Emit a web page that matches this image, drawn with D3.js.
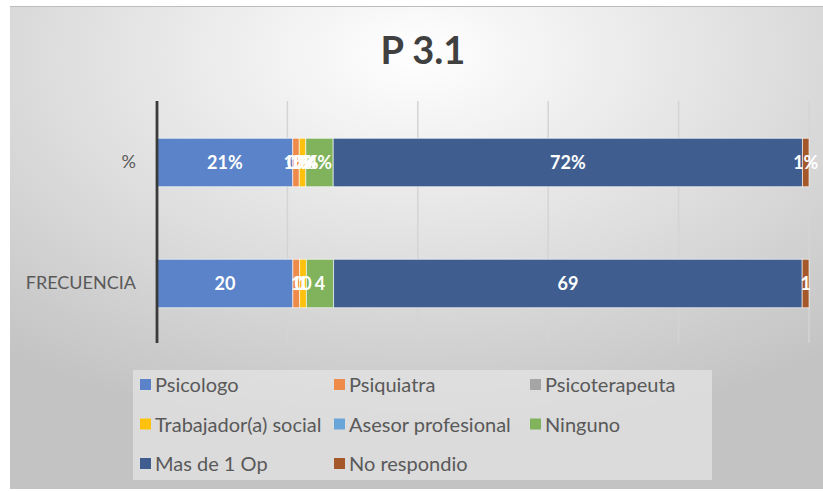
<!DOCTYPE html>
<html>
<head>
<meta charset="utf-8">
<script src="https://cdn.jsdelivr.net/npm/d3@7"></script>
<style>
  body { margin: 0; background: #fff; }
  #chart svg { display: block; }
</style>
</head>
<body>
<div id="chart"></div>
<script>
// =========================
// DATA
// =========================
const categories = ["%", "FRECUENCIA"];
const seriesNames = ["Psicologo", "Psiquiatra", "Psicoterapeuta", "Trabajador(a) social",
                     "Asesor profesional", "Ninguno", "Mas de 1 Op", "No respondio"];
const frecuencia = [20, 1, 0, 1, 0, 4, 69, 1];
const porcentaje = [20.8, 1.0, 0.0, 1.0, 0.0, 4.2, 71.9, 1.0];
const colors = ["#5b83c9", "#ee8a4a", "#a5a5a5", "#fdc10e", "#6aa5da", "#80b35c", "#3f5e8f", "#a5582a"];
const gridTicks = [0, 0.2, 0.4, 0.6, 0.8, 1];

const W = 823, H = 491;
const font = "Lato, sans-serif";

// =========================
// SVG
// =========================
const svg = d3.select("#chart")
    .append("svg")
    .attr("width", W)
    .attr("height", H);

const defs = svg.append("defs");
const grad = defs.append("radialGradient")
    .attr("id", "bg")
    .attr("cx", "50%").attr("cy", "10%").attr("r", "80%");
grad.append("stop").attr("offset", "0%").attr("stop-color", "#ffffff");
grad.append("stop").attr("offset", "100%").attr("stop-color", "#c3c3c3");

svg.append("rect")
    .attr("x", 10).attr("y", 6)
    .attr("width", W - 10).attr("height", 483)
    .attr("fill", "url(#bg)");
svg.append("line")
    .attr("x1", 10).attr("x2", W).attr("y1", 6.5).attr("y2", 6.5)
    .attr("stroke", "#bdbdbd").attr("stroke-width", 1);

// =========================
// TITLE
// =========================
svg.append("text")
    .attr("x", 423).attr("y", 64)
    .attr("text-anchor", "middle")
    .attr("font-family", font)
    .attr("font-weight", "bold")
    .attr("font-size", 38)
    .attr("fill", "#404040")
    .text("P 3.1");

// =========================
// SCALES
// =========================
const x = d3.scaleLinear().domain([0, 1]).range([157, 809]);
const y = d3.scaleBand().domain(categories).range([102, 344]).paddingInner(0.6).paddingOuter(0.3);

// gridlines
svg.selectAll("line.grid")
    .data(gridTicks.slice(1))
    .enter()
    .append("line")
    .attr("class", "grid")
    .attr("x1", d => x(d)).attr("x2", d => x(d))
    .attr("y1", 101).attr("y2", 343)
    .attr("stroke", "#d4d4d4")
    .attr("stroke-width", 1.5);

// =========================
// STACKED BARS (100%)
// =========================
const rows = [
    { cat: "%", values: porcentaje, fmt: v => Math.round(v) + "%" },
    { cat: "FRECUENCIA", values: frecuencia, fmt: v => v }
];

rows.forEach(r => {
    const total = d3.sum(r.values);
    let acc = 0;
    const segs = r.values.map((v, i) => {
        const s = { i: i, v: v, x0: acc / total, x1: (acc + v) / total };
        acc += v;
        return s;
    });

    const g = svg.append("g");

    g.selectAll("rect")
        .data(segs)
        .enter()
        .append("rect")
        .attr("x", d => x(d.x0))
        .attr("y", y(r.cat))
        .attr("width", d => x(d.x1) - x(d.x0))
        .attr("height", y.bandwidth())
        .attr("fill", d => colors[d.i])
        .attr("stroke", "rgba(255,255,255,0.6)")
        .attr("stroke-width", 1);

    g.selectAll("text")
        .data(segs)
        .enter()
        .append("text")
        .attr("x", d => (x(d.x0) + x(d.x1)) / 2)
        .attr("y", y(r.cat) + y.bandwidth() / 2 + 6.5)
        .attr("text-anchor", "middle")
        .attr("font-family", font)
        .attr("font-weight", "bold")
        .attr("font-size", 18)
        .attr("fill", "#ffffff")
        .text(d => r.fmt(d.v));
});

// =========================
// AXIS
// =========================
const yAxis = svg.append("g")
    .attr("transform", "translate(157,0)")
    .call(d3.axisLeft(y).tickSize(0).tickPadding(21));
yAxis.select(".domain").remove();
yAxis.selectAll("text")
    .attr("font-family", font)
    .attr("font-size", 18)
    .attr("fill", "#595959");

svg.append("line")
    .attr("x1", 157).attr("x2", 157)
    .attr("y1", 101).attr("y2", 343)
    .attr("stroke", "#3a3a3a")
    .attr("stroke-width", 2.8);

// =========================
// LEGEND
// =========================
svg.append("rect")
    .attr("x", 133).attr("y", 370)
    .attr("width", 579).attr("height", 110)
    .attr("fill", "#e6e6e6")
    .attr("opacity", 0.7);

const colX = [140, 334, 530];
const rowY = [385, 424.5, 464];

const leg = svg.selectAll("g.leg")
    .data(seriesNames)
    .enter()
    .append("g")
    .attr("class", "leg")
    .attr("transform", (d, i) => `translate(${colX[i % 3]},${rowY[Math.floor(i / 3)]})`);

leg.append("rect")
    .attr("x", 0).attr("y", -6)
    .attr("width", 11).attr("height", 11)
    .attr("fill", (d, i) => colors[i]);

leg.append("text")
    .attr("x", 15).attr("y", 7)
    .attr("font-family", font)
    .attr("font-size", 20)
    .attr("fill", "#595959")
    .text(d => d);
</script>
</body>
</html>
